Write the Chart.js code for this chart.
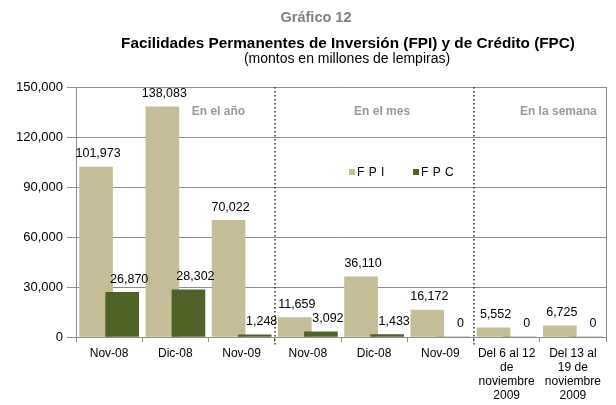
<!DOCTYPE html>
<html>
<head>
<meta charset="utf-8">
<script src="https://cdn.jsdelivr.net/npm/chart.js@4.4.0/dist/chart.umd.min.js"></script>
<style>
  html,body{margin:0;padding:0;background:#fff}
  #wrap{width:616px;height:405px;position:relative}
</style>
</head>
<body>
<div id="wrap"><canvas id="grafico"></canvas></div>
<script>
// datos del gráfico
const categories = [['Nov-08'],['Dic-08'],['Nov-09'],['Nov-08'],['Dic-08'],['Nov-09'],
  ['Del 6 al 12','de','noviembre','2009'],['Del 13 al','19 de','noviembre','2009']];
const fpi = [101973,138083,70022,11659,36110,16172,5552,6725];
const fpc = [26870,28302,1248,3092,1433,0,0,0];
const yTicks = [0,30000,60000,90000,120000,150000];
const sections = ['En el año','En el mes','En la semana'];
const sectionPos = [1.65,4.12,6.78];
const separators = [2.5,5.5];

const FONT = '"Liberation Sans", Arial, sans-serif';
const fmt = v => v.toLocaleString('en-US');
const shift = 0.197; // desplazamiento de cada serie dentro de la categoría

// títulos, separadores, leyenda y etiquetas
const extras = {
  id: 'extras',
  afterDatasetsDraw(chart) {
    const {ctx, chartArea:a, scales:{x,y}} = chart;
    ctx.save();
    // borde derecho
    ctx.strokeStyle = '#8c8c8c'; ctx.lineWidth = 1;
    ctx.beginPath(); ctx.moveTo(Math.round(a.right)+0.5, a.top); ctx.lineTo(Math.round(a.right)+0.5, a.bottom); ctx.stroke();
    // separadores punteados
    ctx.strokeStyle = '#333'; ctx.lineWidth = 1.5; ctx.setLineDash([1.5,2.5]);
    separators.forEach(s=>{
      let px = Math.round(x.getPixelForValue(s));
      ctx.beginPath(); ctx.moveTo(px, a.top); ctx.lineTo(px, a.bottom+8); ctx.stroke();
    });
    ctx.setLineDash([]);
    // etiquetas de datos
    ctx.font = '12.5px ' + FONT; ctx.fillStyle = '#000'; ctx.textAlign = 'center'; ctx.textBaseline = 'middle';
    chart.data.datasets.forEach((ds, di)=>{
      chart.getDatasetMeta(di).data.forEach((el, i)=>{
        ctx.fillText(fmt(ds.data[i].y), el.x + (di===1 ? 7 : 2), el.y - 13);
      });
    });
    // secciones
    ctx.font = 'bold 12px ' + FONT; ctx.fillStyle = '#999';
    sections.forEach((t,i)=> ctx.fillText(t, x.getPixelForValue(sectionPos[i]), y.getPixelForValue(135000)));
    // leyenda
    ctx.font = '12px ' + FONT; ctx.textAlign = 'left'; ctx.fillStyle = '#000';
    ctx.letterSpacing = '0.5px';
    const leg = [[349, chart.data.datasets[0]], [413, chart.data.datasets[1]]];
    leg.forEach(([lx, ds])=>{
      ctx.fillStyle = ds.backgroundColor; ctx.fillRect(lx, 169, 6, 6);
      ctx.fillStyle = '#000'; ctx.fillText(ds.label, lx+8, 172.5);
    });
    ctx.letterSpacing = '0px';
    // títulos
    ctx.textAlign = 'center';
    ctx.font = 'bold 14.5px ' + FONT; ctx.fillStyle = '#808080';
    ctx.fillText('Gráfico 12', 316, 18);
    ctx.font = 'bold 15.3px ' + FONT; ctx.fillStyle = '#000';
    ctx.fillText('Facilidades Permanentes de Inversión (FPI) y de Crédito (FPC)', 348, 44);
    ctx.font = '14px ' + FONT;
    ctx.fillText('(montos en millones de lempiras)', 347, 59);
    ctx.restore();
  }
};

new Chart(document.getElementById('grafico'), {
  type: 'bar',
  data: {
    datasets: [
      { label: 'F P I', data: fpi.map((v,i)=>({x:i-shift, y:v})), backgroundColor: '#C4BD97', order: 1 },
      { label: 'F P C', data: fpc.map((v,i)=>({x:i+shift, y:v})), backgroundColor: '#4F6228', order: 0 }
    ]
  },
  options: {
    responsive: true, maintainAspectRatio: false, animation: false,
    layout: { padding: { top: 87, right: 10, left: 0, bottom: 0 } },
    datasets: { bar: { grouped: false, barThickness: 33 } },
    plugins: { legend: {display:false}, tooltip: {enabled:false}, title: {display:false} },
    scales: {
      x: {
        type: 'linear', min: -0.5, max: 7.5, offset: false,
        afterBuildTicks: s => { s.ticks = categories.map((c,i)=>({value:i})); },
        afterFit: s => { s.height = 68; },
        grid: { offset: true, drawOnChartArea: false, tickLength: 5, color: '#8c8c8c' },
        border: { color: '#8c8c8c' },
        ticks: { callback: (v,i)=>categories[i], autoSkip:false, maxRotation:0, minRotation:0, padding: 5,
                 color:'#000', font:{family:FONT, size:12, lineHeight:1.17} }
      },
      y: {
        min: 0, max: 150000,
        afterBuildTicks: s => { s.ticks = yTicks.map(v=>({value:v})); },
        afterFit: s => { s.width = 76; },
        grid: { color: '#8c8c8c', tickLength: 9 },
        border: { color: '#8c8c8c' },
        ticks: { callback: v=>fmt(v), padding: 4, color:'#000', font:{family:FONT, size:13} }
      }
    }
  },
  plugins: [extras]
});
</script>
</body>
</html>
